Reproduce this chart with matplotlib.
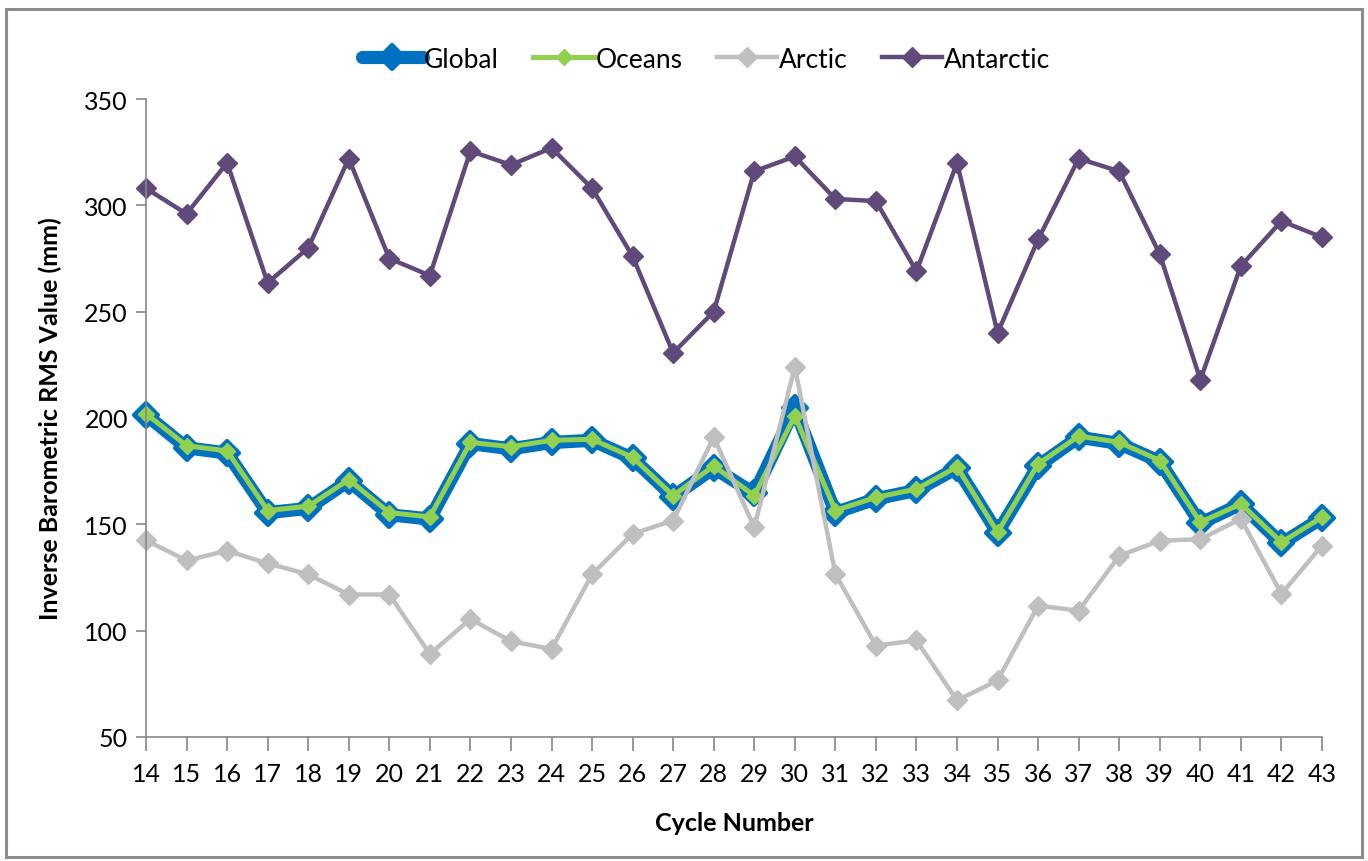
import matplotlib.pyplot as plt
from matplotlib.markers import MarkerStyle
from matplotlib.patches import Rectangle

plt.rcParams['font.family'] = ['Lato', 'DejaVu Sans']

cycles = list(range(14, 44))

global_rms = [201.5, 186, 183.5, 155.5, 157.5, 170.5, 154.5, 152.5, 188, 185.5, 188.5, 189.5, 181, 163,
              176.5, 164.5, 204.5, 155.5, 162, 166, 176.5, 146, 177.5, 191, 188, 179.5, 150.5, 159.5, 141, 153]
oceans_rms = [202, 187, 184.5, 156.5, 158.5, 171, 155.5, 153.5, 188.5, 186.5, 189.5, 190, 181.5, 163.5,
              177.5, 163.5, 201, 156.5, 162.7, 166.6, 177, 146.3, 178.4, 191.5, 188.6, 180, 151, 159.6, 141.6, 153.3]
arctic_rms = [142.5, 133, 137.6, 131.6, 126.5, 117, 117, 89, 105.5, 95, 91.4, 126.5, 145.5, 151.8,
              191, 148.6, 224, 126.6, 93, 95.4, 67.2, 76.6, 111.8, 109.4, 135.2, 142.3, 143, 152.6, 117.3, 140]
antarctic_rms = [308, 296, 320, 263.5, 280, 322, 275, 267, 325.5, 319, 327, 308, 276, 230.6,
                 250, 316, 323, 303, 302, 269, 320, 240, 284, 322, 316, 277, 218, 271.5, 292.6, 285]

fig = plt.figure(figsize=(13.68, 8.62), dpi=100)
ax = fig.add_axes([146 / 1368, 1 - 738 / 862, 1176 / 1368, 638 / 862])

# chart-area frame
fig.patches.append(Rectangle((6 / 1368, 4 / 862), 1356 / 1368, 848 / 862,
                             transform=fig.transFigure, fill=False,
                             edgecolor='#8c8c8c', linewidth=2.2))

diamond = MarkerStyle('D', joinstyle='round')

ax.plot(cycles, global_rms, color='#0070C0', lw=9.5, marker=diamond, ms=12, mew=3,
        mfc='#0070C0', mec='#0070C0', label='Global',
        solid_joinstyle='round', solid_capstyle='round')
ax.plot(cycles, oceans_rms, color='#92D050', lw=3.6, marker='D', ms=8,
        mfc='#92D050', mec='#92D050', label='Oceans')
ax.plot(cycles, arctic_rms, color='#BFBFBF', lw=3.2, marker='D', ms=10,
        mfc='#BFBFBF', mec='#BFBFBF', label='Arctic')
ax.plot(cycles, antarctic_rms, color='#604A7B', lw=3.2, marker='D', ms=10,
        mfc='#604A7B', mec='#604A7B', label='Antarctic')

ax.set_xlim(14, 43)
ax.set_ylim(50, 350)
ax.set_xticks(cycles)
ax.set_yticks(range(50, 351, 50))
ax.tick_params(axis='x', length=10, width=1.2, color='#868686', labelsize=18, pad=8)
ax.tick_params(axis='y', length=7, width=1.2, color='#868686', labelsize=18, pad=6)
for side in ('top', 'right'):
    ax.spines[side].set_visible(False)
for side in ('left', 'bottom'):
    ax.spines[side].set_color('#868686')
    ax.spines[side].set_linewidth(1.2)
for ln in ax.lines:
    ln.set_clip_on(False)

ax.set_xlabel('Cycle Number', fontsize=18, fontweight='bold', labelpad=19)
ax.set_ylabel('Inverse Barometric RMS Value (mm)', fontsize=18, fontweight='bold', labelpad=16)

fig.legend(loc='center', bbox_to_anchor=(706 / 1368, 1 - 60 / 862), ncol=4,
           frameon=False, fontsize=19, handlelength=2.3, handletextpad=0.05,
           columnspacing=1.3)

fig.savefig('out.png', dpi=100)
